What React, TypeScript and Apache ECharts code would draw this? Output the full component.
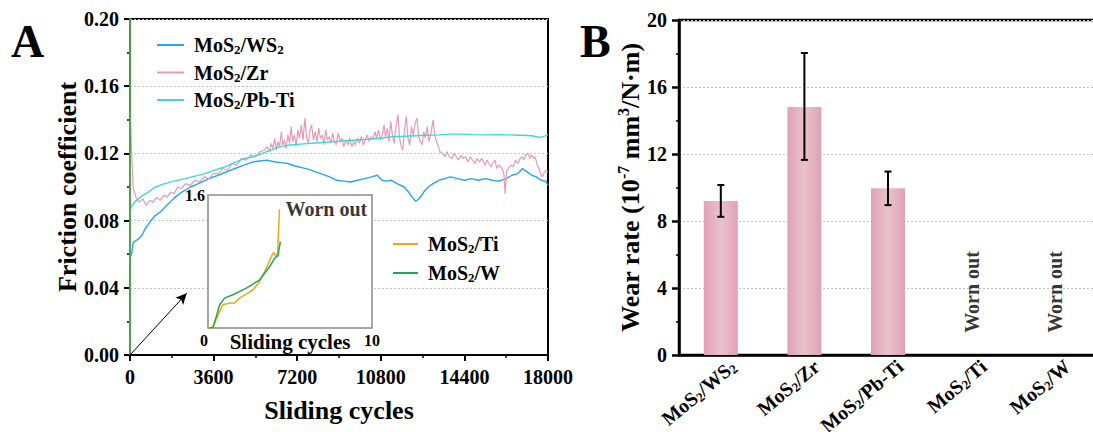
import React, { useEffect, useRef } from 'react';
import * as echarts from 'echarts';

// ---------- Data ----------
const ws2Data: number[][] = [
  [0, 0.058], [70, 0.06], [140, 0.067], [360, 0.069], [500, 0.071], [650, 0.075], [850, 0.079],
  [1080, 0.083], [1300, 0.085], [1650, 0.09], [1950, 0.094], [2230, 0.097], [2600, 0.1],
  [2940, 0.102], [3400, 0.105], [3800, 0.107], [4150, 0.109], [4520, 0.111], [4900, 0.113],
  [5300, 0.115], [5600, 0.1155], [5900, 0.116], [6200, 0.115], [6500, 0.1145], [6800, 0.114],
  [7100, 0.1125], [7400, 0.1115], [7700, 0.1105], [8000, 0.109], [8300, 0.1075], [8600, 0.106],
  [8900, 0.104], [9200, 0.1035], [9500, 0.103], [9800, 0.104], [10100, 0.105], [10400, 0.106],
  [10650, 0.107], [10850, 0.104], [11050, 0.1035], [11250, 0.104], [11500, 0.102], [11800, 0.1],
  [12000, 0.097], [12150, 0.094], [12300, 0.0915], [12450, 0.093], [12650, 0.097], [12850, 0.1],
  [13050, 0.102], [13300, 0.104], [13550, 0.105], [13800, 0.106], [14100, 0.105], [14400, 0.104],
  [14700, 0.105], [15000, 0.104], [15300, 0.105], [15600, 0.104], [15900, 0.1035], [16200, 0.105],
  [16450, 0.107], [16700, 0.108], [16900, 0.111], [17100, 0.109], [17300, 0.107], [17500, 0.106],
  [17700, 0.104], [17900, 0.1035], [18000, 0.101],
];

const zrData: number[][] = [
  [0, 0.004], [15, 0.145], [60, 0.125], [130, 0.1], [250, 0.094], [400, 0.091], [550, 0.093],
  [700, 0.089], [850, 0.092], [1000, 0.091], [1150, 0.094], [1300, 0.092], [1450, 0.095],
  [1600, 0.094], [1750, 0.097], [1900, 0.096], [2050, 0.1], [2200, 0.099], [2400, 0.102],
  [2600, 0.101], [2800, 0.104], [3000, 0.103], [3200, 0.106], [3400, 0.105], [3600, 0.108],
  [3800, 0.108], [4000, 0.111], [4200, 0.11], [4400, 0.114], [4600, 0.113], [4800, 0.117],
  [5000, 0.116], [5200, 0.119], [5400, 0.118], [5600, 0.121], [5800, 0.122], [5900, 0.124],
  [6000, 0.121], [6080, 0.126], [6150, 0.123], [6230, 0.129], [6300, 0.122], [6370, 0.127],
  [6440, 0.124], [6520, 0.133], [6580, 0.125], [6650, 0.128], [6720, 0.123], [6800, 0.131],
  [6870, 0.126], [6940, 0.136], [7000, 0.127], [7080, 0.131], [7150, 0.124], [7230, 0.134],
  [7300, 0.129], [7380, 0.137], [7450, 0.128], [7535, 0.141], [7600, 0.13], [7680, 0.126],
  [7750, 0.134], [7820, 0.137], [7900, 0.128], [7980, 0.133], [8050, 0.127], [8130, 0.135],
  [8200, 0.129], [8280, 0.131], [8350, 0.125], [8430, 0.134], [8500, 0.128], [8580, 0.13],
  [8650, 0.126], [8730, 0.132], [8800, 0.127], [8880, 0.125], [8960, 0.132], [9050, 0.127],
  [9130, 0.129], [9200, 0.124], [9300, 0.128], [9380, 0.125], [9460, 0.129], [9550, 0.124],
  [9630, 0.127], [9700, 0.125], [9800, 0.129], [9880, 0.126], [9960, 0.13], [10050, 0.125],
  [10130, 0.128], [10220, 0.131], [10300, 0.127], [10380, 0.13], [10460, 0.128], [10550, 0.133],
  [10620, 0.129], [10700, 0.134], [10780, 0.128], [10860, 0.131], [10940, 0.137], [11000, 0.13],
  [11080, 0.135], [11150, 0.127], [11230, 0.139], [11300, 0.131], [11380, 0.126], [11450, 0.136],
  [11540, 0.143], [11600, 0.13], [11680, 0.124], [11750, 0.122], [11820, 0.134], [11900, 0.142],
  [11970, 0.129], [12050, 0.125], [12120, 0.136], [12200, 0.131], [12280, 0.138], [12360, 0.141],
  [12430, 0.13], [12500, 0.127], [12580, 0.125], [12650, 0.133], [12720, 0.129], [12800, 0.136],
  [12870, 0.127], [12950, 0.131], [13050, 0.14], [13120, 0.131], [13200, 0.127], [13280, 0.124],
  [13350, 0.121], [13450, 0.12], [13560, 0.118], [13650, 0.121], [13750, 0.118], [13870, 0.117],
  [13950, 0.12], [14050, 0.118], [14150, 0.116], [14250, 0.119], [14350, 0.117], [14450, 0.118],
  [14550, 0.115], [14650, 0.118], [14750, 0.116], [14850, 0.114], [14950, 0.117], [15050, 0.115],
  [15150, 0.117], [15290, 0.113], [15380, 0.116], [15450, 0.114], [15550, 0.112], [15650, 0.115],
  [15720, 0.116], [15800, 0.111], [15900, 0.113], [16020, 0.111], [16100, 0.108], [16150, 0.096],
  [16220, 0.109], [16300, 0.111], [16400, 0.113], [16500, 0.112], [16600, 0.116], [16700, 0.114],
  [16800, 0.117], [16880, 0.118], [16960, 0.116], [17040, 0.119], [17140, 0.12], [17220, 0.117],
  [17300, 0.119], [17380, 0.117], [17440, 0.118], [17520, 0.114], [17600, 0.111], [17680, 0.108],
  [17740, 0.106], [17820, 0.108], [17900, 0.11], [18000, 0.109],
];

const pbtiData: number[][] = [
  [0, 0.085], [45, 0.088], [200, 0.091], [360, 0.093], [550, 0.095], [790, 0.097], [1100, 0.1],
  [1500, 0.102], [1900, 0.1035], [2370, 0.105], [2800, 0.1065], [3230, 0.108], [3650, 0.11],
  [4090, 0.112], [4500, 0.1145], [4950, 0.117], [5300, 0.118], [5700, 0.12], [6050, 0.122],
  [6460, 0.124], [6900, 0.125], [7350, 0.1255], [7820, 0.126], [8300, 0.1265], [8800, 0.127],
  [9300, 0.1275], [9800, 0.128], [10300, 0.1285], [10800, 0.129], [11300, 0.13], [11800, 0.1302],
  [12300, 0.1305], [12800, 0.1308], [13300, 0.131], [13800, 0.1315], [14300, 0.1315],
  [14800, 0.1312], [15300, 0.131], [15800, 0.1312], [16300, 0.131], [16800, 0.1308],
  [17300, 0.1305], [17650, 0.1295], [17800, 0.13], [18000, 0.131],
];

// inset (first ~10 cycles)
const tiData: number[][] = [
  [0, 0], [0.3, 0], [0.5, 0.1], [0.71, 0.2], [0.91, 0.28], [1.32, 0.3], [1.63, 0.3],
  [1.93, 0.36], [2.35, 0.41], [2.74, 0.46], [3.15, 0.56], [3.56, 0.72], [3.86, 0.86],
  [4.0, 0.91], [4.12, 0.87], [4.24, 0.89], [4.36, 1.43],
];
const wData: number[][] = [
  [0.1, 0], [0.3, 0.01], [0.51, 0.14], [0.71, 0.28], [1.01, 0.36], [1.52, 0.4], [2.34, 0.48],
  [3.15, 0.58], [3.76, 0.74], [4.07, 0.84], [4.27, 0.87], [4.41, 1.04],
];

// wear rate (10^-7 mm^3/N·m)
const wearCategories = ['MoS2/WS2', 'MoS2/Zr', 'MoS2/Pb-Ti', 'MoS2/Ti', 'MoS2/W'];
const wearMean: (number | string)[] = [9.2, 14.8, 9.95, '-', '-'];
const wearLow = [8.25, 11.65, 8.95];
const wearHigh = [10.15, 18.03, 10.95];
const wornOutIdx = [3, 4];
const wornOutLabelY = 3.76;

// ---------- Styles ----------
const FONT = '"Liberation Serif", "Times New Roman", serif';
const C_WS2 = '#22A7F0';
const C_ZR = '#E59BB5';
const C_PBTI = '#3DD7D7';
const C_TI = '#F2A516';
const C_W = '#24A65A';

const sub = (name: string) =>
  name.split('2').map((p) => (p ? `{n|${p}}` : '')).join('{s|2}');

const legendRich = {
  g: { width: 5 },
  n: { fontFamily: FONT, fontWeight: 'bold', fontSize: 20, color: '#000', lineHeight: 22 },
  s: { fontFamily: FONT, fontWeight: 'bold', fontSize: 13, color: '#000', lineHeight: 12, verticalAlign: 'bottom' },
};
const catRich = {
  n: { fontFamily: FONT, fontWeight: 'bold', fontSize: 20, color: '#000', lineHeight: 22 },
  s: { fontFamily: FONT, fontWeight: 'bold', fontSize: 13, color: '#000', lineHeight: 12, verticalAlign: 'bottom' },
};
const bold = (size: number) => ({ fontFamily: FONT, fontWeight: 'bold' as const, fontSize: size, color: '#000' });

export default function App() {
  const ref = useRef<HTMLDivElement>(null);
  useEffect(() => {
    document.body.style.margin = '0';
    const chart = echarts.init(ref.current!, null, { renderer: 'svg' });
    const option: any = {
      animation: false,
      backgroundColor: '#fff',
      grid: [
        { left: 130, top: 19, width: 418, height: 336, show: true, borderColor: '#000', borderWidth: 2, outerBoundsMode: 'none' },
        { left: 208, top: 195, width: 164, height: 133, show: true, borderColor: '#8a8a8a', borderWidth: 1.5, backgroundColor: '#fff', z: 1, outerBoundsMode: 'none' },
        { left: 679, top: 20, right: -4, bottom: 77, show: true, borderColor: '#000', borderWidth: 2.5, outerBoundsMode: 'none' },
      ],
      legend: [
        {
          orient: 'vertical', left: 152, top: 30, itemGap: 6.5, itemWidth: 27, itemHeight: 2, icon: 'rect',
          data: ['MoS2/WS2', 'MoS2/Zr', 'MoS2/Pb-Ti'],
          formatter: (n: string) => '{g|}' + sub(n),
          textStyle: { rich: legendRich },
        },
        {
          orient: 'vertical', left: 388, top: 229, itemGap: 8, itemWidth: 25, itemHeight: 2, icon: 'rect',
          data: ['MoS2/Ti', 'MoS2/W'],
          formatter: (n: string) => '{g|}' + sub(n),
          textStyle: { rich: legendRich },
        },
      ],
      xAxis: [
        {
          type: 'value', gridIndex: 0, min: 0, max: 18000, interval: 3600,
          axisLine: { lineStyle: { color: '#000', width: 2 } },
          axisTick: { length: 6, lineStyle: { color: '#000', width: 2 } },
          minorTick: { show: true, splitNumber: 2, length: 3, lineStyle: { color: '#000', width: 1.5 } },
          axisLabel: { ...bold(20), margin: 12, formatter: (v: number) => String(v) },
          splitLine: { show: false },
          name: 'Sliding cycles', nameLocation: 'middle', nameGap: 42, nameMoveOverlap: false, nameTextStyle: bold(26),
        },
        {
          type: 'value', gridIndex: 1, min: 0, max: 10, interval: 10,
          axisLine: { show: false }, axisTick: { show: false }, splitLine: { show: false },
          axisLabel: { ...bold(16), margin: 4, alignMinLabel: 'right', formatter: (v: number) => String(v) },
          name: 'Sliding cycles', nameLocation: 'middle', nameGap: 3, nameMoveOverlap: false, nameTextStyle: bold(21),
        },
        {
          type: 'category', gridIndex: 2, data: wearCategories,
          axisLine: { lineStyle: { color: '#000', width: 2.5 } },
          axisTick: { alignWithLabel: true, length: 6, lineStyle: { color: '#000', width: 2.5 } },
          axisLabel: {
            rotate: 40, margin: -6, align: 'right', verticalAlign: 'top', padding: [8, 0, 0, 0],
            formatter: (v: string) => sub(v), rich: catRich, interval: 0,
          },
        },
      ],
      yAxis: [
        {
          type: 'value', gridIndex: 0, min: 0, max: 0.2, interval: 0.04,
          axisLine: { show: true, lineStyle: { color: '#000', width: 2 } },
          axisTick: { show: true, length: 6, lineStyle: { color: '#000', width: 2 } },
          minorTick: { show: true, splitNumber: 2, length: 3, lineStyle: { color: '#000', width: 1.5 } },
          axisLabel: { ...bold(20), margin: 11, formatter: (v: number) => v.toFixed(2) },
          splitLine: { show: true, lineStyle: { color: '#c4c4c4', type: [2, 2], width: 1 } },
          name: 'Friction coefficient', nameLocation: 'middle', nameGap: 50, nameMoveOverlap: false, nameTextStyle: bold(26),
        },
        {
          type: 'value', gridIndex: 1, min: 0, max: 1.6, interval: 1.6,
          axisLine: { show: false }, axisTick: { show: false }, splitLine: { show: false },
          axisLabel: { ...bold(16), margin: 3, formatter: (v: number) => (v >= 1.6 ? '1.6' : '') },
        },
        {
          type: 'value', gridIndex: 2, min: 0, max: 20, interval: 4,
          axisLine: { show: true, lineStyle: { color: '#000', width: 2.5 } },
          axisTick: { show: true, length: 7, lineStyle: { color: '#000', width: 2.5 } },
          minorTick: { show: true, splitNumber: 2, length: 3, lineStyle: { color: '#000', width: 1.5 } },
          axisLabel: { ...bold(20), margin: 12 },
          splitLine: { show: true, lineStyle: { color: '#c4c4c4', type: [2, 2], width: 1 } },
          name: '{n|Wear rate (10}{p|-7}{n| mm}{p|3}{n|/N·m)}',
          nameLocation: 'middle', nameGap: 34, nameMoveOverlap: false,
          nameTextStyle: {
            rich: {
              n: { fontFamily: FONT, fontWeight: 'bold', fontSize: 26, color: '#000', lineHeight: 30 },
              p: { fontFamily: FONT, fontWeight: 'bold', fontSize: 16, color: '#000', lineHeight: 14, verticalAlign: 'top' },
            },
          },
        },
      ],
      graphic: [
        { type: 'text', left: 11, top: 18, style: { text: 'A', fontFamily: FONT, fontWeight: 'bold', fontSize: 46, fill: '#000' } },
        { type: 'text', left: 580, top: 18, style: { text: 'B', fontFamily: FONT, fontWeight: 'bold', fontSize: 46, fill: '#000' } },
      ],
      series: [
        {
          name: 'MoS2/WS2', type: 'line', xAxisIndex: 0, yAxisIndex: 0, data: ws2Data, showSymbol: false,
          lineStyle: { color: C_WS2, width: 1.4 }, itemStyle: { color: C_WS2 },
          markLine: {
            silent: true, symbol: ['none', 'arrow'], symbolSize: [8, 11],
            lineStyle: { color: '#000', width: 1, type: 'solid' }, label: { show: false },
            data: [[{ coord: [0, 0] }, { coord: [2441, 0.0367] }]],
          },
        },
        {
          name: 'MoS2/Zr', type: 'line', xAxisIndex: 0, yAxisIndex: 0, data: zrData, showSymbol: false,
          lineStyle: { color: C_ZR, width: 1.2 }, itemStyle: { color: C_ZR },
        },
        {
          name: 'MoS2/Pb-Ti', type: 'line', xAxisIndex: 0, yAxisIndex: 0, data: pbtiData, showSymbol: false,
          lineStyle: { color: C_PBTI, width: 1.4 }, itemStyle: { color: C_PBTI },
        },
        {
          name: 'MoS2/Ti', type: 'line', xAxisIndex: 0, yAxisIndex: 0, data: tiData, showSymbol: false, clip: true,
          lineStyle: { color: C_TI, width: 1.5 }, itemStyle: { color: C_TI },
        },
        {
          name: 'MoS2/W', type: 'line', xAxisIndex: 0, yAxisIndex: 0, data: wData, showSymbol: false, clip: true,
          lineStyle: { color: C_W, width: 1.5 }, itemStyle: { color: C_W },
        },
        {
          name: 'MoS2/Ti', type: 'line', xAxisIndex: 1, yAxisIndex: 1, data: tiData, showSymbol: false,
          lineStyle: { color: C_TI, width: 1.5 }, itemStyle: { color: C_TI }, z: 3,
        },
        {
          name: 'MoS2/W', type: 'line', xAxisIndex: 1, yAxisIndex: 1, data: wData, showSymbol: false,
          lineStyle: { color: C_W, width: 1.5 }, itemStyle: { color: C_W }, z: 3,
        },
        {
          name: 'wornInset', type: 'scatter', xAxisIndex: 1, yAxisIndex: 1, symbolSize: 0, z: 4,
          data: [tiData[tiData.length - 1]],
          label: { show: true, position: 'right', distance: 6, formatter: 'Worn out', ...bold(20) },
        },
        {
          name: 'Wear rate', type: 'bar', xAxisIndex: 2, yAxisIndex: 2, data: wearMean, barWidth: 34,
          itemStyle: {
            color: {
              type: 'linear', x: 0, y: 0, x2: 1, y2: 0,
              colorStops: [
                { offset: 0, color: '#E1A0B8' },
                { offset: 0.5, color: '#E9C3CB' },
                { offset: 1, color: '#E1A0B8' },
              ],
            },
          },
        },
        {
          name: 'errors', type: 'custom', xAxisIndex: 2, yAxisIndex: 2, z: 5,
          data: wearLow.map((lo, i) => [i, lo, wearHigh[i]]),
          renderItem: (params: any, api: any) => {
            const i = api.value(0);
            const lo = api.coord([i, api.value(1)]);
            const hi = api.coord([i, api.value(2)]);
            const w = 3.5;
            const st = { stroke: '#000', lineWidth: 2 };
            return {
              type: 'group',
              children: [
                { type: 'line', shape: { x1: lo[0], y1: lo[1], x2: hi[0], y2: hi[1] }, style: st },
                { type: 'line', shape: { x1: hi[0] - w, y1: hi[1], x2: hi[0] + w, y2: hi[1] }, style: st },
                { type: 'line', shape: { x1: lo[0] - w, y1: lo[1], x2: lo[0] + w, y2: lo[1] }, style: st },
              ],
            };
          },
        },
        {
          name: 'wornBars', type: 'scatter', xAxisIndex: 2, yAxisIndex: 2, symbolSize: 0,
          data: wornOutIdx.map((i) => [i, wornOutLabelY]),
          label: { show: true, position: 'inside', rotate: 90, formatter: 'Worn out', ...bold(20) },
        },
      ],
    };
    chart.setOption(option);
    return () => chart.dispose();
  }, []);
  return <div ref={ref} style={{ width: 1093, height: 432 }} />;
}
